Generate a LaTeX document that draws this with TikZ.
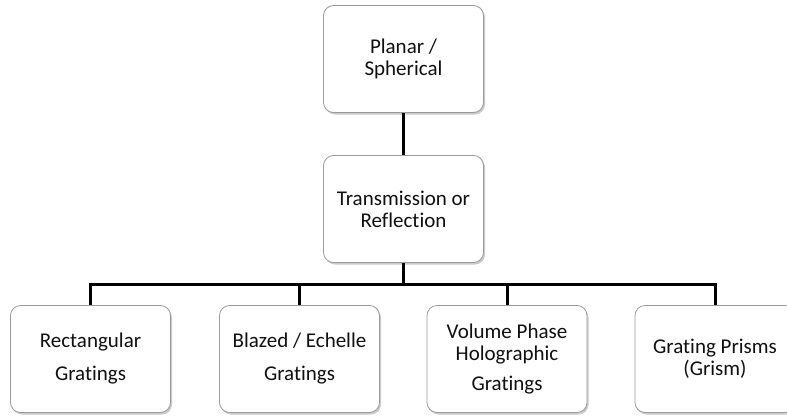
\documentclass[tikz,border=0pt]{standalone}
\usepackage{fontspec}
\setmainfont[Ligatures=NoCommon]{Carlito}
\usetikzlibrary{shadows,calc}
\definecolor{boxline}{HTML}{9A9A9A}
\definecolor{txt}{HTML}{101010}
\tikzset{
  gbox/.style={draw=boxline, line width=0.8pt, rounded corners=10pt, fill=white,
    minimum width=160pt, minimum height=107pt, align=center, text=txt,
    font=\fontsize{21}{22}\selectfont, inner sep=0pt,
    drop shadow={shadow xshift=1.5pt, shadow yshift=-2pt, opacity=0.35, fill=black!60}},
  conn/.style={line width=3pt, black}
}
\begin{document}
\begin{tikzpicture}[x=1pt,y=1pt]
\useasboundingbox (0,0) rectangle (787,-415);
\node[gbox] (top) at (403.5,-59) {Planar /\\Spherical};
\node[gbox] (mid) at (403.5,-209) {Transmission or\\Reflection};
\node[gbox] (b1) at (90.5,-359) {Rectangular\\[11pt]Gratings};
\node[gbox] (b2) at (299.5,-359) {Blazed / Echelle\\[11pt]Gratings};
\node[gbox] (b3) at (507,-359) {Volume Phase\\Holographic\\[8pt]Gratings};
\node[gbox] (b4) at (715,-359) {Grating Prisms\\(Grism)};
\coordinate (j) at (403.5,-284);
\draw[conn] (top.south) -- (mid.north);
\draw[conn] (mid.south) -- (j);
\draw[conn] (b1.north) -- (b1.north |- j) -- (b4.north |- j) -- (b4.north);
\draw[conn] (b2.north) -- (b2.north |- j);
\draw[conn] (b3.north) -- (b3.north |- j);
\end{tikzpicture}
\end{document}
